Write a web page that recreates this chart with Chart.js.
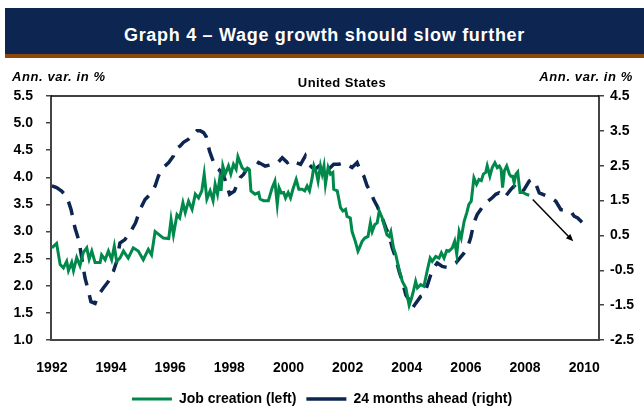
<!DOCTYPE html>
<html>
<head>
<meta charset="utf-8">
<script src="https://cdn.jsdelivr.net/npm/chart.js@4.4.1/dist/chart.umd.min.js"></script>
<style>
    html, body { margin: 0; padding: 0; background: #fff; overflow: hidden; }
    body { width: 644px; height: 407px; position: relative; font-family: "Liberation Sans", Arial, sans-serif; color: #000; }
    .band { position: absolute; left: 5px; top: 8px; width: 639px; height: 46px; background: #0c2551; }
    .strip { position: absolute; left: 5px; top: 54px; width: 639px; height: 4px; background: #8b4a0c; }
    .title { position: absolute; left: 5px; width: 639px; top: 24px; line-height: 22px; text-align: center; color: #fff; font-weight: bold; font-size: 18px; letter-spacing: 0.7px; }
    .unit { position: absolute; top: 69px; line-height: 16px; font-size: 13px; font-weight: bold; font-style: italic; letter-spacing: 0.6px; }
    .unit.left { left: 12px; }
    .unit.right { right: 11px; }
    .sub { position: absolute; top: 75px; left: 242px; width: 200px; text-align: center; line-height: 16px; font-size: 13px; font-weight: bold; letter-spacing: 0.4px; }
    #chartWrap { position: absolute; left: 0; top: 0; width: 644px; height: 416px; }
</style>
</head>
<body>
<div class="band"></div>
<div class="strip"></div>
<div class="title">Graph 4 – Wage growth should slow further</div>
<div id="chartWrap"><canvas id="wageChart" width="644" height="416"></canvas></div>
<div class="unit left">Ann. var. in %</div>
<div class="unit right">Ann. var. in %</div>
<div class="sub">United States</div>

<script>
// Series (x in decimal years)
const jobYears = [
    1992.00, 1992.16, 1992.28, 1992.39, 1992.50, 1992.56, 1992.67, 1992.73, 1992.84, 1992.95,
    1993.06, 1993.18, 1993.26, 1993.35, 1993.46, 1993.63, 1993.68, 1993.80, 1993.91, 1994.02,
    1994.11, 1994.19, 1994.30, 1994.42, 1994.58, 1994.75, 1994.92, 1995.09, 1995.26, 1995.37,
    1995.49, 1995.77, 1995.95, 1996.03, 1996.11, 1996.23, 1996.32, 1996.43, 1996.51, 1996.62,
    1996.74, 1996.85, 1996.96, 1997.07, 1997.15, 1997.24, 1997.35, 1997.45, 1997.52, 1997.60,
    1997.67, 1997.72, 1997.78, 1997.86, 1997.97, 1998.05, 1998.14, 1998.23, 1998.29, 1998.43,
    1998.54, 1998.61, 1998.68, 1998.73, 1998.87, 1998.99, 1999.04, 1999.16, 1999.32, 1999.45,
    1999.54, 1999.62, 1999.68, 1999.76, 1999.84, 1999.90, 1999.99, 2000.07, 2000.15, 2000.26,
    2000.35, 2000.46, 2000.55, 2000.63, 2000.71, 2000.80, 2000.86, 2000.94, 2001.00, 2001.08,
    2001.14, 2001.20, 2001.25, 2001.34, 2001.42, 2001.50, 2001.53, 2001.65, 2001.76, 2001.84,
    2001.93, 2001.98, 2002.09, 2002.15, 2002.26, 2002.35, 2002.40, 2002.49, 2002.58, 2002.69,
    2002.77, 2002.83, 2002.92, 2003.00, 2003.07, 2003.17, 2003.26, 2003.33, 2003.40, 2003.46,
    2003.55, 2003.63, 2003.74, 2003.85, 2003.97, 2004.08, 2004.16, 2004.22, 2004.30, 2004.36,
    2004.47, 2004.58, 2004.70, 2004.79, 2004.86, 2004.98, 2005.09, 2005.17, 2005.26, 2005.35,
    2005.43, 2005.54, 2005.62, 2005.69, 2005.77, 2005.84, 2005.94, 2006.03, 2006.10, 2006.18,
    2006.27, 2006.36, 2006.44, 2006.52, 2006.59, 2006.67, 2006.72, 2006.81, 2006.89, 2006.98,
    2007.06, 2007.13, 2007.19, 2007.24, 2007.30, 2007.38, 2007.47, 2007.52, 2007.58, 2007.63,
    2007.69, 2007.75, 2007.83, 2007.92, 2008.03, 2008.14
];
const jobValues = [
    2.70, 2.78, 2.39, 2.33, 2.45, 2.28, 2.43, 2.28, 2.52, 2.37,
    2.61, 2.70, 2.49, 2.64, 2.43, 2.43, 2.57, 2.48, 2.64, 2.48,
    2.73, 2.45, 2.51, 2.64, 2.51, 2.70, 2.64, 2.48, 2.67, 2.57,
    3.00, 2.88, 2.87, 3.22, 2.94, 3.31, 3.25, 3.53, 3.35, 3.56,
    3.41, 3.69, 3.62, 3.75, 4.06, 3.60, 3.75, 3.57, 3.87, 3.69,
    3.96, 3.75, 4.21, 4.06, 4.21, 4.06, 4.24, 4.15, 4.38, 4.18,
    4.12, 4.17, 4.14, 3.75, 3.69, 3.72, 3.60, 3.57, 3.57, 3.81,
    3.93, 3.50, 3.81, 3.71, 3.72, 3.62, 3.72, 3.62, 3.78, 3.96,
    3.78, 3.78, 3.75, 3.84, 3.75, 3.99, 4.21, 4.09, 3.93, 4.21,
    4.06, 4.21, 3.87, 4.18, 4.06, 4.09, 3.78, 3.75, 3.44, 3.38,
    3.41, 3.28, 3.25, 3.00, 2.82, 2.64, 2.70, 2.82, 2.88, 2.91,
    3.16, 3.00, 3.13, 3.16, 3.38, 3.25, 3.07, 2.94, 2.91, 3.00,
    2.70, 2.57, 2.30, 2.08, 1.96, 1.64, 1.77, 1.89, 2.08, 1.96,
    2.02, 1.99, 2.30, 2.51, 2.45, 2.54, 2.51, 2.61, 2.51, 2.65,
    2.64, 2.70, 2.82, 2.58, 3.00, 2.88, 3.19, 3.35, 3.50, 3.56,
    3.99, 3.87, 3.96, 3.94, 4.06, 4.09, 4.21, 4.02, 4.18, 4.27,
    4.18, 4.21, 4.15, 3.81, 4.12, 4.21, 4.06, 4.02, 4.02, 3.90,
    4.06, 4.10, 3.72, 3.72, 3.69, 3.67
];

const aheadYears = [
    1992.00, 1992.16, 1992.33, 1992.50, 1992.65, 1992.78, 1992.92, 1993.01, 1993.12, 1993.21,
    1993.32, 1993.46, 1993.57, 1993.74, 1993.91, 1994.08, 1994.19, 1994.30, 1994.47, 1994.70,
    1994.83, 1994.98, 1995.15, 1995.32, 1995.49, 1995.60, 1995.77, 1995.95, 1996.11, 1996.17,
    1996.34, 1996.45, 1996.62, 1996.79, 1996.90, 1997.02, 1997.13, 1997.22, 1997.33, 1997.41,
    1997.52, 1997.64, 1997.83, 1997.92, 1998.01, 1998.17, 1998.26, 1998.37, 1998.48, 1998.59,
    1998.76, 1998.88, 1998.99, 1999.10, 1999.21, 1999.49, 1999.62, 1999.79, 1999.96, 2000.12,
    2000.26, 2000.41, 2000.57, 2000.69, 2000.80, 2000.91, 2001.03, 2001.20, 2001.36, 2001.53,
    2001.70, 2001.87, 2001.98, 2002.15, 2002.32, 2002.43, 2002.55, 2002.66, 2002.77, 2002.88,
    2003.00, 2003.17, 2003.30, 2003.40, 2003.51, 2003.63, 2003.74, 2003.85, 2003.97, 2004.08,
    2004.19, 2004.30, 2004.47, 2004.58, 2004.70, 2004.81, 2004.90, 2005.03, 2005.20, 2005.37,
    2005.54, 2005.66, 2005.94, 2006.05, 2006.16, 2006.27, 2006.38, 2006.50, 2006.61, 2006.89,
    2007.01, 2007.12, 2007.30, 2007.52, 2007.63, 2007.75, 2007.86, 2007.97, 2008.14, 2008.26,
    2008.37, 2008.48, 2008.88, 2009.04, 2009.21, 2009.55, 2009.66, 2009.78, 2009.95
];
const aheadValues = [
    1.92, 1.87, 1.77, 1.63, 1.24, 0.72, 0.33, -0.15, -0.72, -1.01,
    -1.40, -1.45, -1.21, -1.01, -0.82, -0.53, -0.25, 0.28, 0.38, 0.67,
    0.86, 1.24, 1.53, 1.68, 1.92, 2.20, 2.45, 2.59, 2.78, 2.97,
    3.07, 3.17, 3.26, 3.41, 3.50, 3.50, 3.45, 3.33, 2.92, 2.73,
    2.49, 2.40, 2.16, 1.92, 1.68, 1.77, 1.96, 2.16, 2.25, 2.40,
    2.40, 2.45, 2.59, 2.54, 2.49, 2.54, 2.57, 2.73, 2.59, 2.68,
    2.59, 2.54, 2.78, 2.54, 2.45, 2.40, 2.49, 2.54, 2.40, 2.54,
    2.54, 2.59, 2.54, 2.45, 2.59, 2.35, 2.20, 1.92, 1.77, 1.53,
    1.34, 1.00, 0.70, 0.52, 0.14, -0.15, -0.53, -0.82, -1.21, -1.35,
    -1.59, -1.45, -1.25, -1.21, -0.92, -0.63, -0.44, -0.29, -0.39, -0.42,
    -0.34, -0.29, 0.00, 0.14, 0.43, 0.86, 1.10, 1.24, 1.39, 1.58,
    1.68, 1.72, 1.58, 1.82, 1.92, 1.82, 1.72, 1.82, 2.06, 2.11,
    1.96, 1.72, 1.58, 1.48, 1.24, 1.19, 1.05, 1.00, 0.86
];

const seriesNames = ['Job creation (left)', '24 months ahead (right)'];
const xTicks = [1992, 1994, 1996, 1998, 2000, 2002, 2004, 2006, 2008, 2010];
const xRange = [1991.97, 2010.5];
const leftRange = [1.0, 5.5];
const rightRange = [-2.5, 4.5];

// "should slow further" arrow, in (year, right-axis value)
const arrowFrom = [2008.26, 1.53];
const arrowTo = [2009.63, 0.33];

const GREEN = '#00894b';
const NAVY = '#0c2551';
const AXIS = '#444444';

Chart.defaults.font.family = "'Liberation Sans', Arial, sans-serif";
Chart.defaults.color = '#000';

const toPoints = (xs, ys) => xs.map((x, i) => ({ x: x, y: ys[i] }));

// Top frame line of the plot area
const frameTop = {
    id: 'frameTop',
    afterDraw(chart) {
        const { ctx, chartArea } = chart;
        ctx.save();
        ctx.strokeStyle = '#000';
        ctx.lineWidth = 1.5;
        ctx.beginPath();
        ctx.moveTo(chartArea.left, chartArea.top);
        ctx.lineTo(chartArea.right, chartArea.top);
        ctx.stroke();
        ctx.restore();
    }
};

// Arrow drawn through the chart's own scales
const trendArrow = {
    id: 'trendArrow',
    afterDatasetsDraw(chart) {
        const { ctx, scales } = chart;
        const x1 = scales.x.getPixelForValue(arrowFrom[0]);
        const y1 = scales.y2.getPixelForValue(arrowFrom[1]);
        const x2 = scales.x.getPixelForValue(arrowTo[0]);
        const y2 = scales.y2.getPixelForValue(arrowTo[1]);
        const ang = Math.atan2(y2 - y1, x2 - x1);
        const head = 8;
        ctx.save();
        ctx.strokeStyle = '#000';
        ctx.fillStyle = '#000';
        ctx.lineWidth = 1.5;
        ctx.beginPath();
        ctx.moveTo(x1, y1);
        ctx.lineTo(x2 - Math.cos(ang) * head * 0.8, y2 - Math.sin(ang) * head * 0.8);
        ctx.stroke();
        ctx.beginPath();
        ctx.moveTo(x2, y2);
        ctx.lineTo(x2 - head * Math.cos(ang - 0.4), y2 - head * Math.sin(ang - 0.4));
        ctx.lineTo(x2 - head * Math.cos(ang + 0.4), y2 - head * Math.sin(ang + 0.4));
        ctx.closePath();
        ctx.fill();
        ctx.restore();
    }
};

const tickFont = { size: 14, weight: 'bold' };

new Chart(document.getElementById('wageChart'), {
    type: 'line',
    data: {
        datasets: [{
            label: seriesNames[0],
            data: toPoints(jobYears, jobValues),
            yAxisID: 'y',
            borderColor: GREEN,
            backgroundColor: GREEN,
            borderWidth: 3,
            pointRadius: 0,
            tension: 0
        }, {
            label: seriesNames[1],
            data: toPoints(aheadYears, aheadValues),
            yAxisID: 'y2',
            borderColor: NAVY,
            backgroundColor: NAVY,
            borderWidth: 3.5,
            borderDash: [14, 10],
            pointRadius: 0,
            tension: 0
        }]
    },
    options: {
        responsive: false,
        animation: false,
        layout: { padding: { top: 96, left: 0, right: 0, bottom: 0 } },
        plugins: {
            tooltip: { enabled: false },
            legend: {
                position: 'bottom',
                labels: {
                    usePointStyle: true,
                    pointStyle: 'line',
                    pointStyleWidth: 40,
                    padding: 10,
                    font: { size: 14, weight: 'bold' },
                    color: '#000'
                }
            }
        },
        scales: {
            x: {
                type: 'linear',
                min: xRange[0],
                max: xRange[1],
                afterBuildTicks: (scale) => { scale.ticks = xTicks.map(v => ({ value: v })); },
                afterFit: (scale) => { scale.height = 42; },
                grid: { display: false },
                border: { display: true, color: AXIS, width: 2 },
                ticks: {
                    autoSkip: false,
                    maxRotation: 0,
                    padding: 12,
                    font: tickFont,
                    callback: (v) => String(v)
                }
            },
            y: {
                position: 'left',
                min: leftRange[0],
                max: leftRange[1],
                afterFit: (scale) => { scale.width = 51; },
                grid: { drawOnChartArea: false, drawTicks: true, tickLength: 5, color: AXIS, lineWidth: 1.5 },
                border: { display: true, color: AXIS, width: 2 },
                ticks: { stepSize: 0.5, padding: 13, font: tickFont, callback: (v) => v.toFixed(1) }
            },
            y2: {
                position: 'right',
                min: rightRange[0],
                max: rightRange[1],
                afterFit: (scale) => { scale.width = 45; },
                grid: { drawOnChartArea: false, drawTicks: true, tickLength: 5, color: AXIS, lineWidth: 1.5 },
                border: { display: true, color: AXIS, width: 2 },
                ticks: { stepSize: 1, padding: 6, font: tickFont, callback: (v) => v.toFixed(1) }
            }
        }
    },
    plugins: [frameTop, trendArrow]
});
</script>
</body>
</html>
